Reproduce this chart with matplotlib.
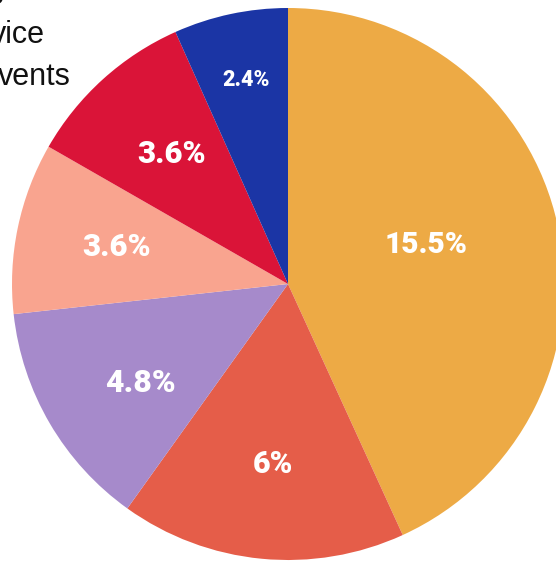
import matplotlib
matplotlib.use("Agg")
import matplotlib.pyplot as plt
import numpy as np

# Data (clockwise from 12 o'clock)
values = [15.5, 6, 4.8, 3.6, 3.6, 2.4]
labels = ["15.5%", "6%", "4.8%", "3.6%", "3.6%", "2.4%"]
colors = ["#EDAA45", "#E55D49", "#A68ACB", "#F9A48F", "#DA1438", "#1B35A5"]
corner_lines = ["g", "vice", "vents"]

# label styling / placement (fraction of radius, angle nudge in degrees, size in pt)
label_r = [0.52, 0.65, 0.64, 0.635, 0.635, 0.76]
label_nudge = [4.0, 0.7, 3.0, -0.9, -0.6, -0.5]
label_size = [21.5, 22, 23, 22.5, 22.5, 15.5]
corner_right = [5, 45, 71]
corner_base = [-3, 43, 85]

W, H = 556, 564
fig = plt.figure(figsize=(W / 100, H / 100), dpi=100)
ax = fig.add_axes([0, 0, 1, 1])
cx, cy, R = 288, H - 284, 276

wedges, _ = ax.pie(values, colors=colors, startangle=90, counterclock=False,
                   center=(cx, cy), radius=R, frame=True,
                   wedgeprops=dict(linewidth=0, antialiased=True))
for w, lab, fr, nd, fs in zip(wedges, labels, label_r, label_nudge, label_size):
    ang = np.deg2rad((w.theta1 + w.theta2) / 2 + nd)
    ax.text(cx + fr * R * np.cos(ang), cy + fr * R * np.sin(ang) - 1.5, lab,
            ha="center", va="center", color="white", fontsize=fs,
            fontweight=900, family="Roboto")

ax.set_xlim(0, W)
ax.set_ylim(0, H)
ax.set_aspect("equal")
ax.axis("off")

for t, xr, yb in zip(corner_lines, corner_right, corner_base):
    ax.text(xr, H - yb, t, ha="right", va="baseline", fontsize=22,
            color="#111111", family="Liberation Sans")

fig.savefig("out.png", dpi=100)
